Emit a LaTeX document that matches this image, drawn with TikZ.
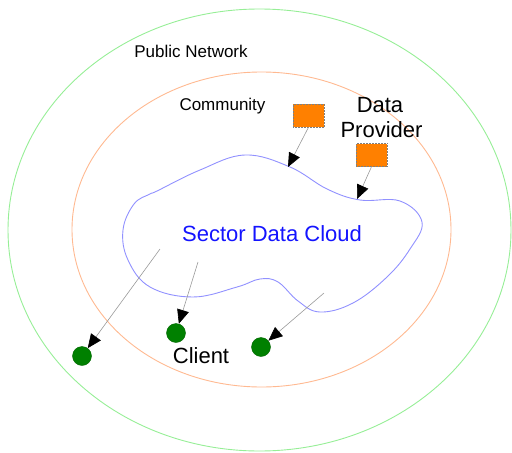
\documentclass[tikz,border=0pt]{standalone}
\usepackage{fontspec}
\setmainfont{Liberation Sans}
\usetikzlibrary{arrows.meta}
\definecolor{netgreen}{RGB}{150,238,150}
\definecolor{commorange}{RGB}{255,185,145}
\definecolor{cloudblue}{RGB}{145,145,255}
\definecolor{boxorange}{RGB}{255,128,0}
\definecolor{dotgreen}{RGB}{0,128,0}
\definecolor{textblue}{RGB}{20,20,255}
\tikzset{
  ring/.style={line width=0.9pt},
  provbox/.style={draw=gray, densely dotted, line width=0.5pt, fill=boxorange, minimum width=31pt, minimum height=23pt, inner sep=0pt},
  clientdot/.style={circle, fill=dotgreen, draw=dotgreen!80!black, line width=0.4pt, minimum size=19pt, inner sep=0pt},
  flow/.style={draw=gray!80, line width=0.6pt, -{Triangle[length=14pt,width=12pt,black]}},
  smalltext/.style={font=\fontsize{17}{20}\selectfont, inner sep=0pt, anchor=base},
  bigtext/.style={font=\fontsize{22}{25}\selectfont, inner sep=0pt, anchor=base}
}
\begin{document}
\begin{tikzpicture}[x=1pt,y=-1pt]
\useasboundingbox (0,0) rectangle (512,453);
% rings
\draw[ring, netgreen] (259.5,230) ellipse [x radius=251.5pt, y radius=221pt];
\draw[ring, commorange] (261.5,229.5) ellipse [x radius=189.5pt, y radius=157.5pt];
% cloud
\draw[cloudblue, line width=0.9pt] plot[smooth cycle, tension=0.65] coordinates {
 (157,191) (200,170) (245,155) (290,167) (327,189) (360,200)
 (400,201) (422,222) (410,249) (387,277) (353,303) (320,312)
 (298,301) (278,282) (260,279) (237,287) (193,297) (150,287) (128,260) (123,230)
 (134,204) (150,194)};
% labels
\node[smalltext] (pub) at (191,57) {Public Network};
\node[smalltext] (comm) at (222.5,110) {Community};
\node[bigtext] (dp1) at (380,112) {Data};
\node[bigtext] (dp2) at (381.5,137) {Provider};
\node[bigtext, text=textblue] (sdc) at (272,241) {Sector Data Cloud};
\node[bigtext] (cl) at (201,363) {Client};
% providers
\node[provbox] (boxA) at (308.5,115.5) {};
\node[provbox] (boxB) at (371.5,155) {};
\coordinate (tA) at (288,167);
\coordinate (tB) at (357,199);
\draw[flow] (boxA.south) -- (tA);
\draw[flow] (boxB.south) -- (tB);
% clients
\node[clientdot] (c1) at (82,356) {};
\node[clientdot] (c2) at (176,333) {};
\node[clientdot] (c3) at (261,347) {};
\coordinate (s1) at (160,249);
\coordinate (s2) at (198,262);
\coordinate (s3) at (324,293);
\draw[flow] (s1) -- (c1);
\draw[flow] (s2) -- (c2);
\draw[flow] (s3) -- (c3);
\end{tikzpicture}
\end{document}
